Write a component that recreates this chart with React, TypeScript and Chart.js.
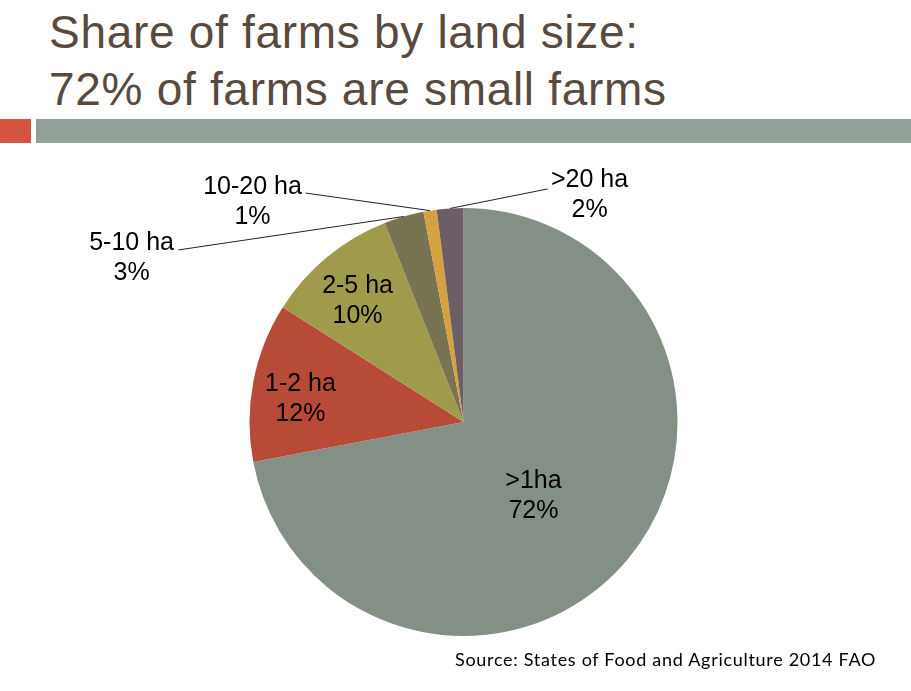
import React, { useEffect, useRef } from "react";
import { Chart, registerables } from "chart.js";

Chart.register(...registerables);

const categories = [">1ha", "1-2 ha", "2-5 ha", "5-10 ha", "10-20 ha", ">20 ha"];
const shares = [72, 12, 10, 3, 1, 2];
const sliceColors = ["#848F85", "#B84B37", "#A09B4B", "#787451", "#D4A23F", "#6C5E67"];

// label placement relative to pie centre, in units of the pie radius
const labelPos = [
  [0.327, 0.348],
  [-0.762, -0.105],
  [-0.495, -0.563],
  [-1.551, -0.766],
  [-0.986, -1.028],
  [0.589, -1.061],
];
// leader line start (relative, radius units), null = no leader
const leaderStart: (number[] | null)[] = [
  null,
  null,
  null,
  [-1.332, -0.804],
  [-0.738, -1.07],
  [0.393, -1.089],
];

const labelPlugin = {
  id: "sliceLabels",
  afterDatasetsDraw(chart: any) {
    const meta = chart.getDatasetMeta(0);
    const ctx = chart.ctx;
    ctx.save();
    meta.data.forEach((arc: any, i: number) => {
      const { x, y, outerRadius, startAngle, endAngle } = arc.getProps(
        ["x", "y", "outerRadius", "startAngle", "endAngle"],
        true
      );
      const R = outerRadius;
      const ls = leaderStart[i];
      if (ls) {
        const mid = (startAngle + endAngle) / 2;
        const ex = x + Math.cos(mid) * R;
        const ey = y + Math.sin(mid) * R;
        ctx.beginPath();
        ctx.strokeStyle = "#222";
        ctx.lineWidth = 1;
        ctx.moveTo(x + ls[0] * R, y + ls[1] * R);
        ctx.lineTo(ex, ey);
        ctx.stroke();
      }
      const lx = x + labelPos[i][0] * R;
      const ly = y + labelPos[i][1] * R;
      ctx.fillStyle = "#000";
      ctx.font = '25px "Liberation Sans", Arial, sans-serif';
      ctx.textAlign = "center";
      ctx.textBaseline = "middle";
      ctx.fillText(categories[i], lx, ly - 15);
      ctx.fillText(shares[i] + "%", lx, ly + 15);
    });
    ctx.restore();
  },
};

export default function App() {
  const ref = useRef<HTMLCanvasElement>(null);
  useEffect(() => {
    if (!ref.current) return;
    const chart = new Chart(ref.current, {
      type: "pie",
      data: {
        labels: categories,
        datasets: [
          {
            data: shares,
            backgroundColor: sliceColors,
            borderWidth: 0,
          },
        ],
      },
      options: {
        responsive: false,
        animation: false,
        layout: { padding: { left: 249, right: 233, top: 208, bottom: 55 } },
        plugins: {
          legend: { display: false },
          tooltip: { enabled: false },
          title: { display: false },
        },
      },
      plugins: [labelPlugin],
    });
    return () => chart.destroy();
  }, []);

  const titleStyle: React.CSSProperties = {
    position: "absolute",
    left: 49,
    top: 4,
    fontFamily: '"Liberation Sans", Arial, sans-serif',
    fontSize: 46,
    lineHeight: "57px",
    letterSpacing: "0.7px",
    color: "#584A3E",
    whiteSpace: "nowrap",
    margin: 0,
    fontWeight: "normal",
  };

  return (
    <div
      style={{
        position: "absolute",
        left: 0,
        top: 0,
        width: 911,
        height: 691,
        background: "#fff",
        overflow: "hidden",
      }}
    >
      <div style={titleStyle}>
        <div>Share of farms by land size:</div>
        <div>72% of farms are small farms</div>
      </div>
      <div style={{ position: "absolute", left: 0, top: 119, width: 31, height: 24, background: "#D3553F" }} />
      <div style={{ position: "absolute", left: 36, top: 119, width: 875, height: 24, background: "#93A097" }} />
      <canvas ref={ref} width={911} height={691} style={{ position: "absolute", left: 0, top: 0 }} />
      <div
        style={{
          position: "absolute",
          left: 455,
          top: 648,
          fontFamily: "Lato, sans-serif",
          fontSize: 18,
          lineHeight: "22px",
          letterSpacing: "0.7px",
          color: "#000",
          whiteSpace: "nowrap",
        }}
      >
        Source: States of Food and Agriculture 2014 FAO
      </div>
    </div>
  );
}
